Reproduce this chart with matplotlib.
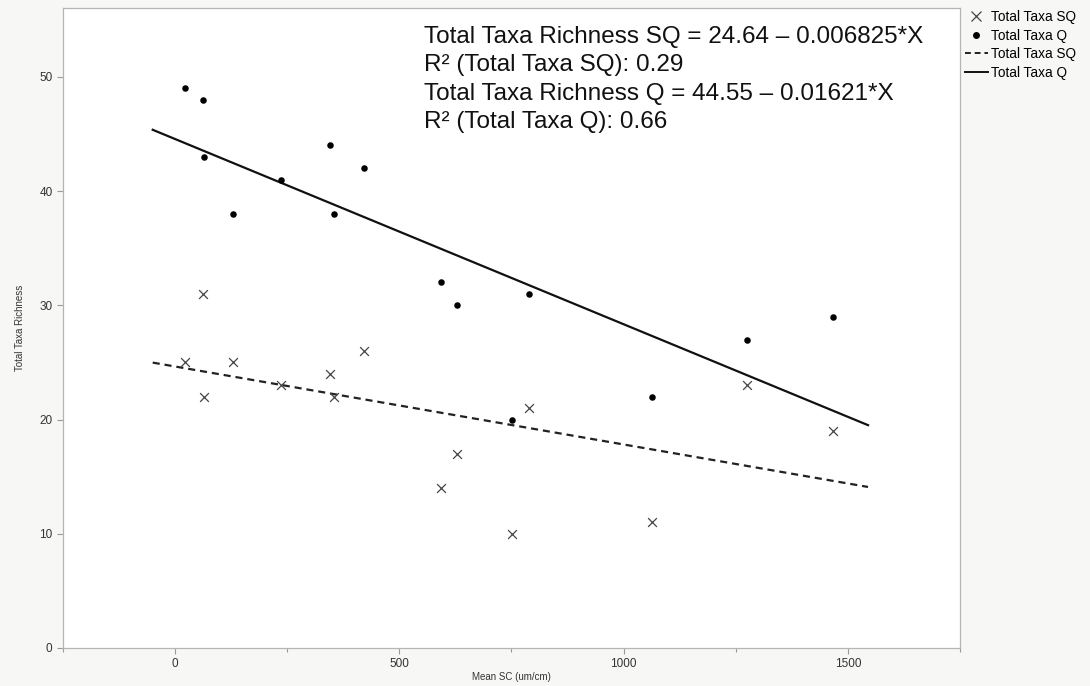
import matplotlib
matplotlib.use("Agg")
import matplotlib.pyplot as plt
from matplotlib.lines import Line2D
import numpy as np

plt.rcParams['font.family'] = ['Liberation Sans', 'DejaVu Sans']

# Mean specific conductance at each site (um/cm)
mean_sc = [22, 62, 65, 128, 236, 345, 355, 422, 593, 629, 752, 789, 1063, 1275, 1467]
# Total taxa richness, semi-quantitative samples
taxa_sq = [25, 31, 22, 25, 23, 24, 22, 26, 14, 17, 10, 21, 11, 23, 19]
# Total taxa richness, quantitative samples
taxa_q = [49, 48, 43, 38, 41, 44, 38, 42, 32, 30, 20, 31, 22, 27, 29]

# Fitted linear models (intercept, slope) and R^2
sq_fit = (24.64, -0.006825)
q_fit = (44.55, -0.01621)
r2_sq = 0.29
r2_q = 0.66
fit_range = (-50, 1545)

x_ticks = [0, 500, 1000, 1500]
y_ticks = [0, 10, 20, 30, 40, 50]

fig = plt.figure(figsize=(10.9, 6.86), dpi=100, facecolor='#f7f7f5')
ax = fig.add_axes([0.0578, 0.0554, 0.8229, 0.9326])
ax.set_facecolor('white')

xs = np.array(mean_sc)
ax.scatter(xs, taxa_sq, marker='x', s=40, color='#444444', linewidths=0.9, zorder=3)
ax.scatter(xs, taxa_q, marker='o', s=22, color='black', linewidths=0, zorder=3)

xf = np.linspace(fit_range[0], fit_range[1], 2)
ax.plot(xf, sq_fit[0] + sq_fit[1] * xf, color='#222222', lw=1.6, ls=(0, (3.2, 2.2)))
ax.plot(xf, q_fit[0] + q_fit[1] * xf, color='#111111', lw=1.6)

ax.set_xlim(-250, 1750)
ax.set_ylim(0, 56)
ax.set_xticks(x_ticks)
ax.set_xticks(np.arange(-250, 1751, 250), minor=True)
ax.set_yticks(y_ticks)
for s in ax.spines.values():
    s.set_color('#b5b5b5')
    s.set_linewidth(0.9)
ax.tick_params(axis='both', which='both', colors='#9a9a9a', labelcolor='#333333',
               labelsize=8.5, direction='out', length=4, width=0.8)
ax.tick_params(axis='x', which='minor', length=3)
ax.set_xlabel('Mean SC (um/cm)', fontsize=7, color='#333333', labelpad=1)
ax.set_ylabel('Total Taxa Richness', fontsize=7, color='#333333', labelpad=10)

eq_lines = [
    f"Total Taxa Richness SQ = {sq_fit[0]:.2f} \u2013 {abs(sq_fit[1]):g}*X",
    f"R\u00b2 (Total Taxa SQ): {r2_sq:.2f}",
    f"Total Taxa Richness Q = {q_fit[0]:.2f} \u2013 {abs(q_fit[1]):g}*X",
    f"R\u00b2 (Total Taxa Q): {r2_q:.2f}",
]
for i, t in enumerate(eq_lines):
    fig.text(424 / 1090, 1 - (36.5 + i * 28.6) / 686, t, fontsize=17.5,
             color='#111111', va='center', ha='left')

handles = [
    Line2D([], [], marker='x', ls='none', color='#444444', markersize=6.5, mew=0.9),
    Line2D([], [], marker='o', ls='none', color='black', markersize=5, mew=0),
    Line2D([], [], color='#222222', lw=1.4, ls=(0, (3, 2))),
    Line2D([], [], color='#111111', lw=1.4),
]
labels = ['Total Taxa SQ', 'Total Taxa Q', 'Total Taxa SQ', 'Total Taxa Q']
fig.legend(handles, labels, loc='upper left', bbox_to_anchor=(0.880, 0.993),
           frameon=False, fontsize=9.8, handlelength=1.7, handletextpad=0.25,
           labelspacing=0.33, borderaxespad=0)

fig.savefig('out.png', dpi=100, facecolor=fig.get_facecolor())
